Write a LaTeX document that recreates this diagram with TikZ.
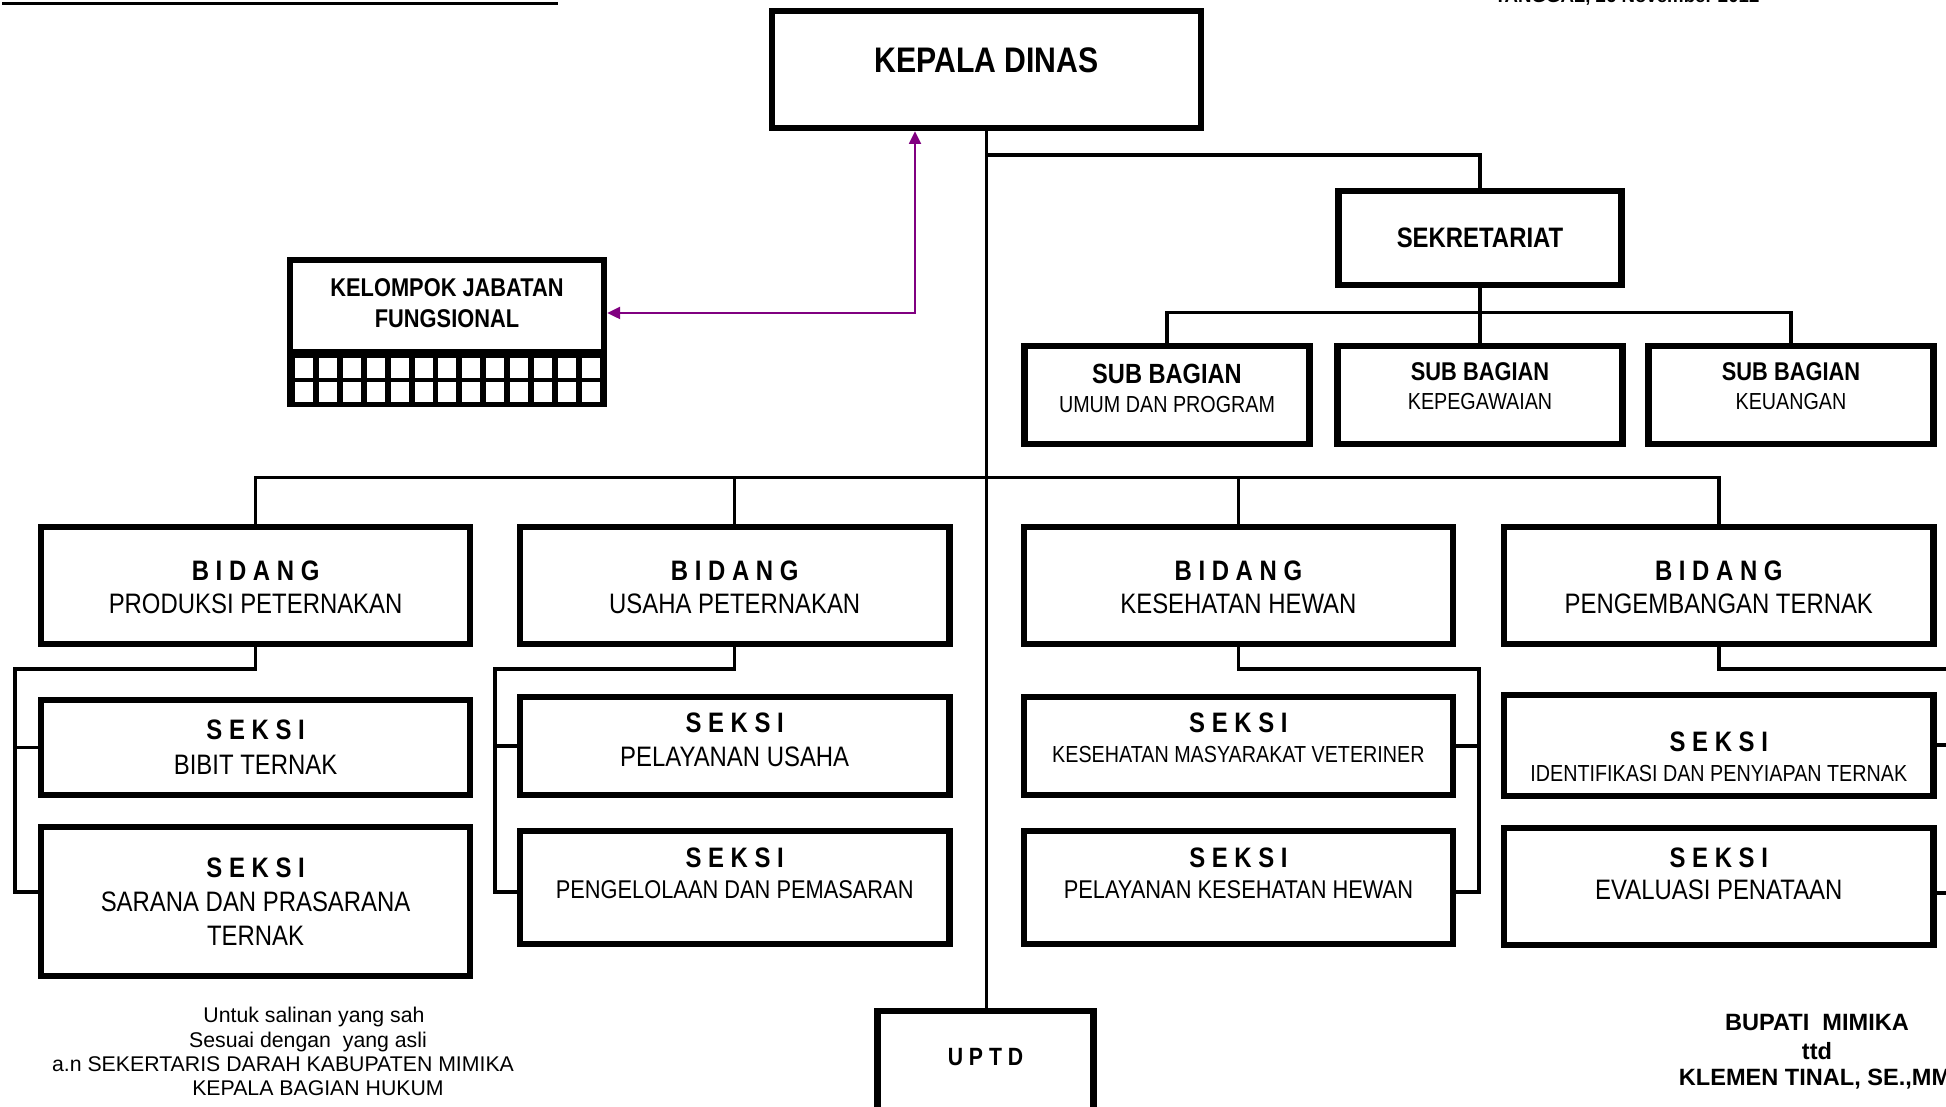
\documentclass[tikz,border=0pt]{standalone}
\usepackage{fontspec}
\setmainfont{Liberation Sans}
\newfontfamily\narrowfont[FakeStretch=0.85]{Liberation Sans}
\usetikzlibrary{arrows.meta}
\definecolor{linkpurple}{HTML}{800080}
\newcommand{\seksihead}{{\bfseries\fontsize{8}{9}\selectfont S E K S I}}

\begin{document}
\begin{tikzpicture}[x=0.01cm,y=-0.01cm,
  orgbox/.style={draw, line width=0.065cm, inner sep=0pt, align=center},
  wire/.style={line width=0.035cm},
  lift/.style={text depth=#1},
  fnarrow/.style 2 args={font=\narrowfont\fontsize{#1}{#2}\selectfont},
  fbold/.style 2 args={font=\narrowfont\bfseries\fontsize{#1}{#2}\selectfont}]
\useasboundingbox (0,0) rectangle (1946,1107);
\clip (0,0) rectangle (1946,1107);
% top edge
\draw[line width=0.03cm] (2,3.5) -- (558,3.5);
\node[anchor=base, font=\bfseries\fontsize{5.3}{6}\selectfont] (tanggal) at (1627,3) {TANGGAL, 26 November 2012};
% kepala, sekretariat
\node[orgbox, fbold={10.1}{12}, minimum width=4.29cm, minimum height=1.17cm, lift=0.19cm] (kepala) at (986.5,69.5) {KEPALA DINAS};
\node[orgbox, fbold={8}{10}, minimum width=2.83cm, minimum height=0.94cm] (sekre) at (1480,238) {SEKRETARIAT};
\node[orgbox, fnarrow={6.6}{8.3}, minimum width=2.85cm, minimum height=0.98cm, lift=0.13cm] (sub1) at (1167,395) {{\bfseries\fontsize{7.9}{8.3}\selectfont SUB BAGIAN}\\UMUM DAN PROGRAM};
\node[orgbox, fnarrow={6.6}{8.5}, minimum width=2.85cm, minimum height=0.98cm, lift=0.18cm] (sub2) at (1480,395) {{\bfseries\fontsize{7.3}{8.5}\selectfont SUB BAGIAN}\\KEPEGAWAIAN};
\node[orgbox, fnarrow={6.6}{8.5}, minimum width=2.85cm, minimum height=0.98cm, lift=0.18cm] (sub3) at (1791,395) {{\bfseries\fontsize{7.3}{8.5}\selectfont SUB BAGIAN}\\KEUANGAN};
% jabatan fungsional
\node[orgbox, fbold={7.3}{9}, minimum width=3.14cm, minimum height=0.92cm, lift=0.06cm] (kelompok) at (447,306) {KELOMPOK JABATAN\\FUNGSIONAL};
\fill (287,352) rectangle (607,407);
\foreach \i in {0,...,12}
  \foreach \j in {0,1}
    \fill[white] ({295+23.9*\i},{358+24*\j}) rectangle ++(18,20);
% bidang
\node[orgbox, fnarrow={8}{9.3}, minimum width=4.29cm, minimum height=1.17cm, text height=0.56cm] (bidang1) at (255.6,585.5) {\textbf{B I D A N G}\\PRODUKSI PETERNAKAN};
\node[orgbox, fnarrow={8}{9.3}, minimum width=4.29cm, minimum height=1.17cm, text height=0.56cm] (bidang2) at (734.7,585.5) {\textbf{B I D A N G}\\USAHA PETERNAKAN};
\node[orgbox, fnarrow={8}{9.3}, minimum width=4.29cm, minimum height=1.17cm, text height=0.56cm] (bidang3) at (1238.4,585.5) {\textbf{B I D A N G}\\KESEHATAN HEWAN};
\node[orgbox, fnarrow={8}{9.3}, minimum width=4.29cm, minimum height=1.17cm, text height=0.56cm] (bidang4) at (1718.8,585.5) {\textbf{B I D A N G}\\PENGEMBANGAN TERNAK};
% seksi
\node[orgbox, fnarrow={8}{10}, minimum width=4.29cm, minimum height=0.95cm] (seksi1a) at (255.6,747.5) {\seksihead\\BIBIT TERNAK};
\node[orgbox, fnarrow={8}{9.7}, minimum width=4.29cm, minimum height=1.49cm] (seksi1b) at (255.6,901.5) {\seksihead\\SARANA DAN PRASARANA\\TERNAK};
\node[orgbox, fnarrow={8}{9.6}, minimum width=4.29cm, minimum height=0.98cm, lift=0.12cm] (seksi2a) at (734.7,746) {\seksihead\\PELAYANAN USAHA};
\node[orgbox, fnarrow={7.3}{8.8}, minimum width=4.29cm, minimum height=1.13cm, lift=0.28cm] (seksi2b) at (734.7,887.5) {\seksihead\\PENGELOLAAN DAN PEMASARAN};
\node[orgbox, fnarrow={6.6}{8.5}, minimum width=4.29cm, minimum height=0.98cm, lift=0.16cm] (seksi3a) at (1238.4,746) {\seksihead\\KESEHATAN MASYARAKAT VETERINER};
\node[orgbox, fnarrow={7.3}{8.8}, minimum width=4.29cm, minimum height=1.13cm, lift=0.28cm] (seksi3b) at (1238.4,887.5) {\seksihead\\PELAYANAN KESEHATAN HEWAN};
\node[orgbox, fnarrow={6.6}{8.5}, minimum width=4.29cm, minimum height=1.01cm, text height=0.72cm] (seksi4a) at (1718.8,745.5) {\seksihead\\IDENTIFIKASI DAN PENYIAPAN TERNAK};
\node[orgbox, fnarrow={8}{9.1}, minimum width=4.29cm, minimum height=1.17cm, lift=0.25cm] (seksi4b) at (1718.8,886.5) {\seksihead\\EVALUASI PENATAAN};
% uptd
\node[orgbox, fbold={7.1}{8}, minimum width=2.16cm, minimum height=1.14cm, lift=0.22cm] (uptd) at (985.5,1068) {U P T D};
%
\draw[wire] (kepala.south) -- (kepala.south |- uptd.north);
\draw[wire] (kepala.south |- 0,155) -| (sekre.north);
\draw[wire] (sekre.south) -- (sub2.north);
\draw[wire] (sub1.north) -- ++(0,-30) -| (sub3.north);
\draw[wire] (bidang1.north) -- ++(0,-46) -| (bidang4.north);
\draw[wire] (bidang2.north) -- ++(0,-46);
\draw[wire] (bidang3.north) -- ++(0,-46);
\draw[wire] (bidang1.south) |- (15,669) -- (15,892) -- (seksi1b.west |- 0,892);
\draw[wire] (seksi1a.west -| 15,0) -- (seksi1a.west);
\draw[wire] (bidang2.south) |- (495,669) -- (495,892) -- (seksi2b.west |- 0,892);
\draw[wire] (seksi2a.west -| 495,0) -- (seksi2a.west);
\draw[wire] (bidang3.south) |- (1479,669) -- (1479,892) -- (seksi3b.east |- 0,892);
\draw[wire] (seksi3a.east -| 1479,0) -- (seksi3a.east);
\draw[wire] (bidang4.south) |- (1958,669) -- (1958,893) -- (seksi4b.east |- 0,893);
\draw[wire] (seksi4a.east |- 0,745) -- (1958,745);
\draw[linkpurple, line width=0.02cm, {Triangle[length=3.6pt,width=3.4pt]}-{Triangle[length=3.6pt,width=3.4pt]}]
  (kelompok.east |- 0,313) -| (kepala.south -| 915,0);
% pengesahan
\node[anchor=base, font=\fontsize{6.05}{7}\selectfont] (salin1) at (314,1022.5) {Untuk salinan yang sah};
\node[anchor=base, font=\fontsize{6.05}{7}\selectfont] (salin2) at (308,1047.5) {Sesuai dengan~ yang asli};
\node[anchor=base, font=\fontsize{6.05}{7}\selectfont] (salin3) at (283,1071.5) {a.n SEKERTARIS DARAH KABUPATEN MIMIKA};
\node[anchor=base, font=\fontsize{6.05}{7}\selectfont] (salin4) at (318,1095.5) {KEPALA BAGIAN HUKUM};
\node[anchor=base, font=\bfseries\fontsize{6.7}{8}\selectfont] (bupati1) at (1817,1030.5) {BUPATI~ MIMIKA};
\node[anchor=base, font=\bfseries\fontsize{6.7}{8}\selectfont] (bupati2) at (1817,1059) {ttd};
\node[anchor=base, font=\bfseries\fontsize{6.7}{8}\selectfont] (bupati3) at (1815,1085.5) {KLEMEN TINAL, SE.,MM};
\end{tikzpicture}
\end{document}
